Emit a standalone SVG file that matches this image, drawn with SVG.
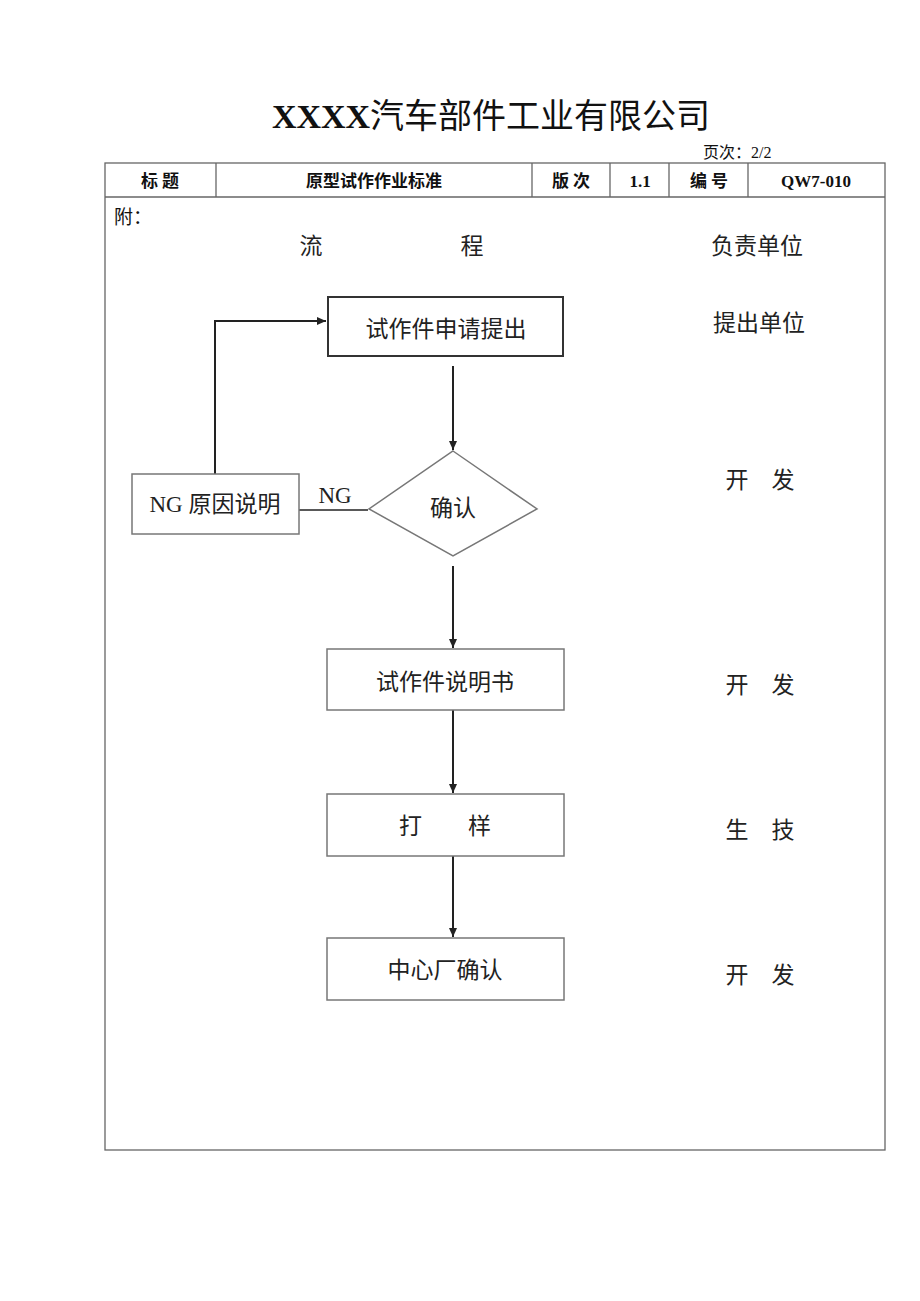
<svg xmlns="http://www.w3.org/2000/svg" width="920" height="1301" viewBox="0 0 920 1301">
<defs>
<style>
.t{font-family:"Liberation Serif","Noto Sans CJK SC",serif;fill:#111}
.hd{font-family:"Liberation Serif","Noto Sans CJK SC",serif;font-weight:bold;font-size:17px;fill:#111;text-anchor:middle}
.n{font-family:"Liberation Serif","Noto Sans CJK SC",serif;font-size:23px;fill:#222;text-anchor:middle}
.box{fill:#fff;stroke:#777;stroke-width:1.5}
.grid{fill:none;stroke:#666;stroke-width:1.3}
.c{fill:none;stroke:#222;stroke-width:2}
</style>
<marker id="ah" markerWidth="10" markerHeight="10" refX="9" refY="5" orient="auto" markerUnits="userSpaceOnUse">
<path d="M0,1 L9,5 L0,9 z" fill="#222"/>
</marker>
</defs>
<rect width="920" height="1301" fill="#fff"/>
<text class="t" x="491" y="128" text-anchor="middle" font-size="34"><tspan font-weight="bold">XXXX</tspan>汽车部件工业有限公司</text>
<text class="t" x="703" y="158" font-size="16">页次：2/2</text>
<g id="table">
<rect class="grid" x="105" y="163" width="780" height="987"/>
<line class="grid" x1="105" y1="197" x2="885" y2="197"/>
<line class="grid" x1="216" y1="163" x2="216" y2="197"/>
<line class="grid" x1="532" y1="163" x2="532" y2="197"/>
<line class="grid" x1="610" y1="163" x2="610" y2="197"/>
<line class="grid" x1="669" y1="163" x2="669" y2="197"/>
<line class="grid" x1="748" y1="163" x2="748" y2="197"/>
<text class="hd" x="160" y="187">标 题</text>
<text class="hd" x="374" y="187">原型试作作业标准</text>
<text class="hd" x="571" y="187">版 次</text>
<text class="hd" x="640" y="187">1.1</text>
<text class="hd" x="709" y="187">编 号</text>
<text class="hd" x="816" y="187">QW7-010</text>
<text class="t" x="114" y="224" font-size="19">附：</text>
<text class="n" x="311" y="254">流</text>
<text class="n" x="472" y="254">程</text>
<text class="n" x="757" y="254">负责单位</text>
<text class="n" x="759" y="331">提出单位</text>
<text class="n" x="760" y="488">开　发</text>
<text class="n" x="760" y="693">开　发</text>
<text class="n" x="760" y="838">生　技</text>
<text class="n" x="760" y="983">开　发</text>
</g>
<g id="connectors">
<polyline class="c" points="215,474 215,321 326,321" marker-end="url(#ah)"/>
<line class="c" x1="453" y1="366" x2="453" y2="450" marker-end="url(#ah)"/>
<line x1="299" y1="510" x2="368" y2="510" stroke="#222" stroke-width="1.5"/>
<text class="n" x="335" y="503">NG</text>
<line class="c" x1="453" y1="566" x2="453" y2="648" marker-end="url(#ah)"/>
<line class="c" x1="453" y1="710" x2="453" y2="793" marker-end="url(#ah)"/>
<line class="c" x1="453" y1="856" x2="453" y2="937" marker-end="url(#ah)"/>
</g>
<g id="n1">
<rect x="328" y="297" width="235" height="59" fill="#fff" stroke="#333" stroke-width="2"/>
<text class="n" x="446" y="337">试作件申请提出</text>
</g>
<g id="n2">
<polygon class="box" points="453,451 537,509 453,556 369,509"/>
<text class="n" x="453" y="516">确认</text>
</g>
<g id="n3">
<rect class="box" x="132" y="474" width="167" height="60"/>
<text class="n" x="215" y="512">NG 原因说明</text>
</g>
<g id="n4">
<rect class="box" x="327" y="649" width="237" height="61"/>
<text class="n" x="445" y="690">试作件说明书</text>
</g>
<g id="n5">
<rect class="box" x="327" y="794" width="237" height="62"/>
<text class="n" x="445" y="834">打　　样</text>
</g>
<g id="n6">
<rect class="box" x="327" y="938" width="237" height="62"/>
<text class="n" x="445" y="978">中心厂确认</text>
</g>
</svg>
